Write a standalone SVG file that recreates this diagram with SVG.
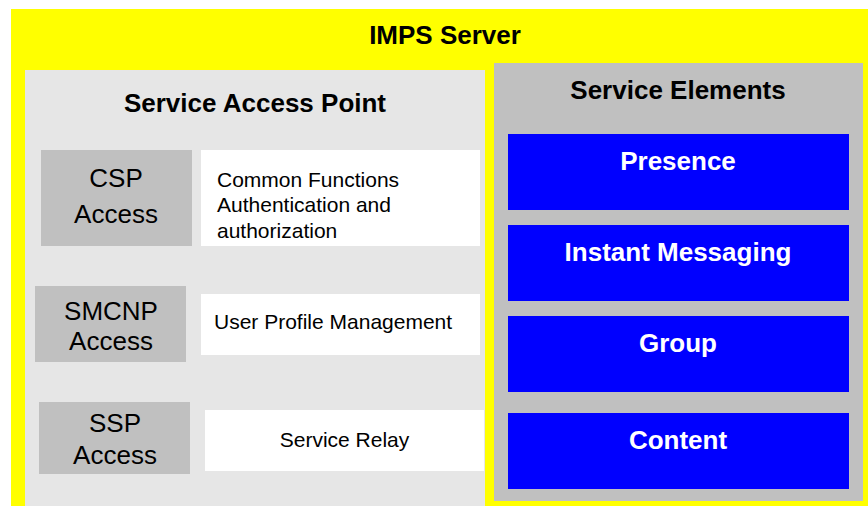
<svg xmlns="http://www.w3.org/2000/svg" width="868" height="506" viewBox="0 0 868 506">
<style>
text{font-family:"Liberation Sans",Arial,sans-serif;}
.title{font-size:26px;font-weight:bold;fill:#000;text-anchor:middle;}
.blue{fill:#0000ff;}
.btext{font-size:26px;font-weight:bold;fill:#fff;text-anchor:middle;}
.acc{fill:#c0c0c0;}
.atext{font-size:26px;fill:#000;text-anchor:middle;}
.wbox{fill:#fff;}
.wtext{font-size:21px;fill:#000;}
</style>
<rect x="0" y="0" width="868" height="506" fill="#fff"/>
<g id="imps-server">
<rect x="11" y="9" width="857" height="497" fill="#ffff00"/>
<text class="title" x="445" y="44">IMPS Server</text>
</g>
<g id="service-access-point">
<rect x="25" y="70" width="460" height="436" fill="#e6e6e6"/>
<text class="title" x="255" y="112">Service Access Point</text>
</g>
<g id="service-elements">
<rect x="494" y="63" width="369" height="438" fill="#c0c0c0"/>
<text class="title" x="678" y="99">Service Elements</text>
</g>
<g id="csp-access">
<rect class="acc" x="41" y="150" width="151" height="96"/>
<text class="atext" x="116" y="187">CSP</text>
<text class="atext" x="116" y="223">Access</text>
</g>
<g id="common-functions">
<rect class="wbox" x="201" y="150" width="279" height="96"/>
<text class="wtext" x="217" y="187">Common Functions</text>
<text class="wtext" x="217" y="212">Authentication and</text>
<text class="wtext" x="217" y="238">authorization</text>
</g>
<g id="smcnp-access">
<rect class="acc" x="35" y="286" width="151" height="76"/>
<text class="atext" x="111" y="320">SMCNP</text>
<text class="atext" x="111" y="350">Access</text>
</g>
<g id="user-profile">
<rect class="wbox" x="201" y="294" width="279" height="61"/>
<text class="wtext" x="214" y="329">User Profile Management</text>
</g>
<g id="ssp-access">
<rect class="acc" x="39" y="402" width="151" height="72"/>
<text class="atext" x="115" y="432">SSP</text>
<text class="atext" x="115" y="464">Access</text>
</g>
<g id="service-relay">
<rect class="wbox" x="205" y="410" width="279" height="61"/>
<text class="wtext" x="344.5" y="447" text-anchor="middle">Service Relay</text>
</g>
<g id="presence">
<rect class="blue" x="508" y="134" width="341" height="76"/>
<text class="btext" x="678" y="170">Presence</text>
</g>
<g id="instant-messaging">
<rect class="blue" x="508" y="225" width="341" height="76"/>
<text class="btext" x="678" y="261">Instant Messaging</text>
</g>
<g id="group">
<rect class="blue" x="508" y="316" width="341" height="76"/>
<text class="btext" x="678" y="352">Group</text>
</g>
<g id="content">
<rect class="blue" x="508" y="413" width="341" height="76"/>
<text class="btext" x="678" y="449">Content</text>
</g>
<g id="connectors"></g>
</svg>
